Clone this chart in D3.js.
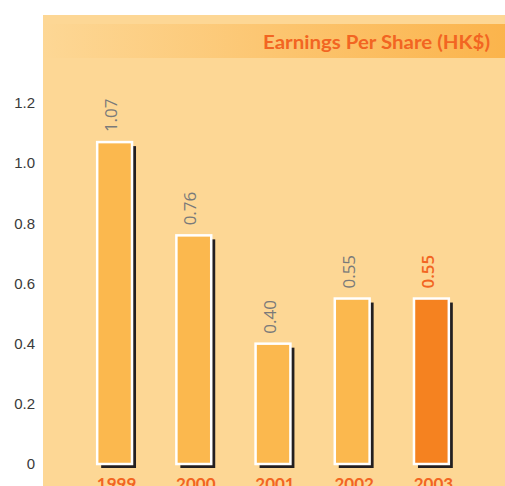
<!DOCTYPE html>
<html>
<head>
<meta charset="utf-8">
<script src="https://cdn.jsdelivr.net/npm/d3@7"></script>
<style>
  html, body { margin: 0; padding: 0; background: #fff; }
  svg { display: block; }
</style>
</head>
<body>
<div id="chart"></div>
<script>
// EPS chart data
var years = ["1999", "2000", "2001", "2002", "2003"];
var eps = [1.07, 0.76, 0.40, 0.55, 0.55];
var epsLabels = ["1.07", "0.76", "0.40", "0.55", "0.55"];
var yTicks = [0, 0.2, 0.4, 0.6, 0.8, 1.0, 1.2];
var title = "Earnings Per Share (HK$)";

var width = 505,
    height = 486;
var panelColor = "#fdd795",
    barColor = "#fbb84e",
    lastBarColor = "#f58220",
    accent = "#f26522";

var svg = d3.select("#chart").append("svg")
    .attr("width", width)
    .attr("height", height);

var defs = svg.append("defs");
var grad = defs.append("linearGradient")
    .attr("id", "titleGrad")
    .attr("x1", "0%").attr("x2", "100%")
    .attr("y1", "0%").attr("y2", "0%");
grad.append("stop").attr("offset", "0%").attr("stop-color", panelColor);
grad.append("stop").attr("offset", "100%").attr("stop-color", "#fbb44c");

// panel + title band
svg.append("rect")
    .attr("x", 43).attr("y", 15)
    .attr("width", width - 43).attr("height", height - 15)
    .attr("fill", panelColor);
svg.append("rect")
    .attr("x", 43).attr("y", 24)
    .attr("width", width - 43).attr("height", 34)
    .attr("fill", "url(#titleGrad)");
svg.append("text")
    .attr("x", 490).attr("y", 49)
    .attr("text-anchor", "end")
    .attr("font-family", "Lato, 'Open Sans', sans-serif")
    .attr("font-weight", 700)
    .attr("font-size", 19)
    .attr("textLength", 227)
    .attr("lengthAdjust", "spacingAndGlyphs")
    .attr("fill", accent)
    .text(title);

var xScale = d3.scaleBand()
    .domain(years)
    .range([75, 471])
    .paddingInner(0.56)
    .paddingOuter(0.28);
var yScale = d3.scaleLinear()
    .domain([0, 1.2])
    .range([464, 103]);

// y axis, no line, labels only
var yAxis = d3.axisLeft(yScale)
    .tickValues(yTicks)
    .tickSize(0)
    .tickPadding(0)
    .tickFormat(function(d) { return d === 0 ? "0" : d3.format(".1f")(d); });
var yg = svg.append("g")
    .attr("transform", "translate(35,0)")
    .call(yAxis);
yg.select(".domain").remove();
yg.selectAll("text")
    .attr("font-family", "'Liberation Sans', Arial, sans-serif")
    .attr("font-size", 15)
    .attr("fill", "#3a3a3a");

var data = years.map(function(y, i) {
    return {year: y, value: eps[i], label: epsLabels[i], last: i === years.length - 1};
});

var g = svg.append("g").selectAll("g")
    .data(data)
    .enter()
    .append("g");

// drop shadow
g.append("rect")
    .attr("x", function(d) { return xScale(d.year) + 4; })
    .attr("y", function(d) { return yScale(d.value) + 4; })
    .attr("width", xScale.bandwidth())
    .attr("height", function(d) { return yScale(0) - yScale(d.value); })
    .attr("fill", "#231f20");

g.append("rect")
    .attr("x", function(d) { return xScale(d.year); })
    .attr("y", function(d) { return yScale(d.value); })
    .attr("width", xScale.bandwidth())
    .attr("height", function(d) { return yScale(0) - yScale(d.value); })
    .attr("fill", function(d) { return d.last ? lastBarColor : barColor; })
    .attr("stroke", "#fff")
    .attr("stroke-width", 2.5);

// value labels, rotated
g.append("text")
    .attr("transform", function(d) {
        var cx = xScale(d.year) + xScale.bandwidth() / 2 - 2;
        return "translate(" + cx + "," + (yScale(d.value) - 10) + ") rotate(-90)";
    })
    .attr("dominant-baseline", "middle")
    .attr("font-family", "'Open Sans', sans-serif")
    .attr("font-size", 17)
    .attr("font-weight", function(d) { return d.last ? 600 : 400; })
    .attr("fill", function(d) { return d.last ? accent : "#7a7a7a"; })
    .text(function(d) { return d.label; });

// year labels (cut by the bottom edge, as in the original)
g.append("text")
    .attr("x", function(d) { return xScale(d.year) + xScale.bandwidth() / 2 + 2; })
    .attr("y", 490)
    .attr("text-anchor", "middle")
    .attr("font-family", "Lato, sans-serif")
    .attr("font-weight", 700)
    .attr("font-size", 17)
    .attr("fill", accent)
    .text(function(d) { return d.year; });
</script>
</body>
</html>
